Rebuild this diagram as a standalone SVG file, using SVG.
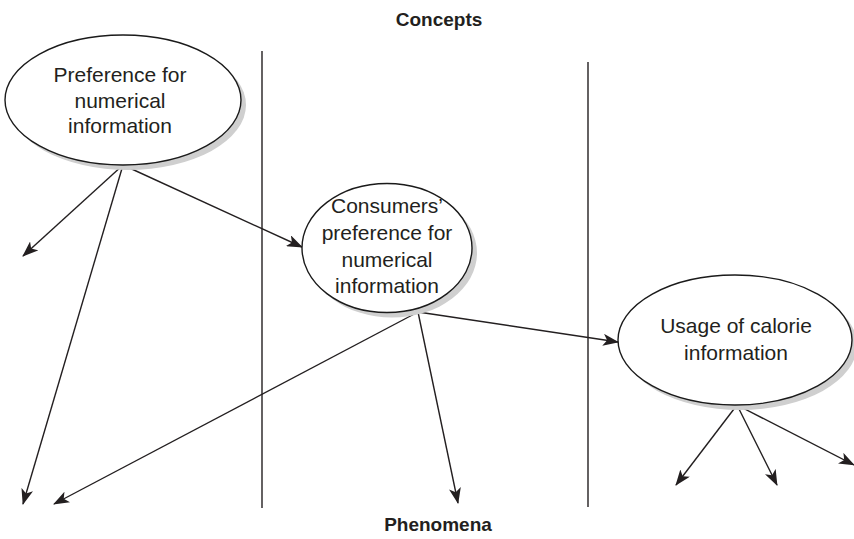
<svg xmlns="http://www.w3.org/2000/svg" width="854" height="539" viewBox="0 0 854 539">
  <style>
    .shadow { fill: #cfcfcf; stroke: none; }
    .node { fill: #ffffff; stroke: #1a1a1a; stroke-width: 1.4; }
    .label { font-family: "Liberation Sans", Arial, sans-serif; font-size: 21px; fill: #231f20; text-anchor: middle; }
    .head { font-family: "Liberation Sans", Arial, sans-serif; font-size: 19px; font-weight: bold; fill: #231f20; text-anchor: middle; }
    .divider { stroke: #231f20; stroke-width: 1.4; }
    .edge { stroke: #231f20; stroke-width: 1.4; fill: none; marker-end: url(#arrow); }
  </style>
  <defs>
    <marker id="arrow" viewBox="0 0 16 12" refX="15" refY="6" markerWidth="16" markerHeight="12" markerUnits="userSpaceOnUse" orient="auto">
      <path d="M0,0 L16,6 L0,12 L4,6 Z" fill="#231f20"/>
    </marker>
  </defs>

  <rect width="854" height="539" fill="#ffffff"/>

  <text class="head" x="439" y="26">Concepts</text>
  <text class="head" x="438" y="531">Phenomena</text>

  <g id="dividers">
    <line class="divider" x1="262" y1="51" x2="262" y2="508"/>
    <line class="divider" x1="588" y1="62" x2="588" y2="507"/>
  </g>

  <g id="connectors">
    <line class="edge" x1="123" y1="165" x2="23" y2="256"/>
    <line class="edge" x1="123" y1="165" x2="23" y2="504"/>
    <line class="edge" x1="123" y1="165" x2="302" y2="247"/>
    <line class="edge" x1="418" y1="312" x2="54" y2="504"/>
    <line class="edge" x1="418" y1="312" x2="458" y2="503"/>
    <line class="edge" x1="418" y1="312" x2="618" y2="342"/>
    <line class="edge" x1="737" y1="405" x2="676" y2="485"/>
    <line class="edge" x1="737" y1="405" x2="777" y2="485"/>
    <line class="edge" x1="737" y1="405" x2="854" y2="465"/>
  </g>

  <g id="node-preference">
    <ellipse class="shadow" cx="128" cy="105" rx="118" ry="65"/>
    <ellipse class="node" cx="123" cy="100" rx="118" ry="65"/>
    <text class="label" x="120" y="82">Preference for</text>
    <text class="label" x="120" y="108">numerical</text>
    <text class="label" x="120" y="133">information</text>
  </g>

  <g id="node-consumers">
    <ellipse class="shadow" cx="392" cy="253" rx="85" ry="64.5"/>
    <ellipse class="node" cx="387" cy="248" rx="85" ry="64.5"/>
    <text class="label" x="387" y="213">Consumers’</text>
    <text class="label" x="387" y="240">preference for</text>
    <text class="label" x="387" y="267">numerical</text>
    <text class="label" x="387" y="293">information</text>
  </g>

  <g id="node-usage">
    <ellipse class="shadow" cx="740" cy="345" rx="117" ry="65"/>
    <ellipse class="node" cx="735" cy="340" rx="117" ry="65"/>
    <text class="label" x="736" y="333">Usage of calorie</text>
    <text class="label" x="736" y="360">information</text>
  </g>
</svg>
